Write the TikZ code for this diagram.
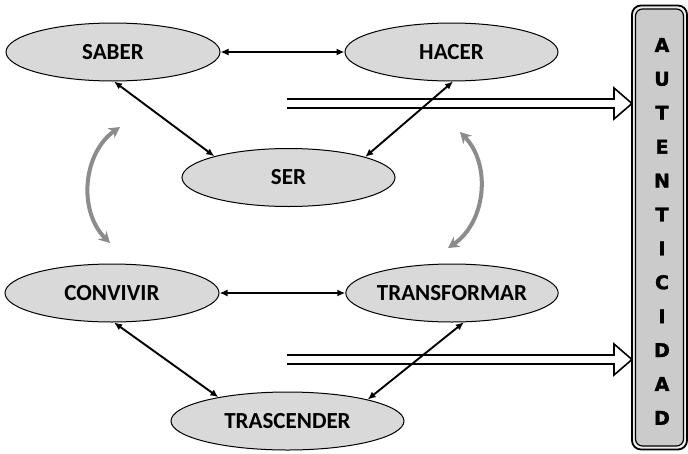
\documentclass[tikz,border=0pt]{standalone}
\usepackage{fontspec}
\setmainfont{Carlito}
\newfontfamily\boxfont[BoldFeatures={FakeBold=1.6}]{DejaVu Sans}
\usetikzlibrary{arrows.meta,shapes.geometric}
\definecolor{ovalgray}{HTML}{D9D9D9}
\definecolor{curvegray}{HTML}{8C8C8C}
\definecolor{boxgray}{HTML}{CBCBCB}
\definecolor{rimgray}{HTML}{EDEDED}
\tikzset{
  oval/.style={ellipse, draw, line width=1pt, fill=ovalgray, inner sep=0pt,
    minimum height=58pt, font=\fontsize{23}{25}\selectfont\bfseries},
  link/.style={line width=1.9pt, {Latex[length=8pt,width=7pt]}-{Latex[length=8pt,width=7pt]}},
  swing/.style={line width=4pt, curvegray, {Stealth[length=11pt,width=12pt]}-{Stealth[length=11pt,width=12pt]}},
  bigarrow/.style={line width=1.6pt, line join=miter},
  capital/.style={font=\boxfont\bfseries\fontsize{19}{19}\selectfont},
}
\newcommand{\fatarrow}[1]{\draw [bigarrow] (#1) ++(0,-4.5) -- ++(327,0) -- ++(0,-11)
  -- ++(18,15.5) -- ++(-18,15.5) -- ++(0,-11) -- ++(-327,0);}
\begin{document}
\begin{tikzpicture}[x=1pt,y=-1pt]
  \useasboundingbox (0,0) rectangle (688,453);

  \node [oval, minimum width=214pt] (saber) at (113,52) {SABER};
  \node [oval, minimum width=213pt] (hacer) at (451.5,52) {HACER};
  \node [oval, minimum width=213pt] (ser) at (288.5,177.5) {SER};
  \node [oval, minimum width=214pt] (convivir) at (112,293) {CONVIVIR};
  \node [oval, minimum width=212pt] (transformar) at (452,293) {TRANSFORMAR};
  \node [oval, minimum width=233pt] (trascender) at (287.5,421) {TRASCENDER};

  \draw [link] (saber) to (hacer);
  \draw [link] (saber.272) to (ser.164);
  \draw [link] (hacer.273) to (ser.15);
  \draw [link] (convivir) to (transformar);
  \draw [link] (convivir.274) to (trascender.161);
  \draw [link] (transformar.292) to (trascender.15);

  \coordinate (lefttop) at (120,127);
  \coordinate (leftbot) at (110,243);
  \coordinate (righttop) at (460,132);
  \coordinate (rightbot) at (448,248);
  \draw [swing] (lefttop) to [bend right=50] (leftbot);
  \draw [swing] (righttop) to [bend left=50] (rightbot);

  \coordinate (uptail) at (287,103.5);
  \coordinate (lowtail) at (287,359.5);
  \fatarrow{uptail}
  \fatarrow{lowtail}

  \node [draw, line width=1.8pt, rounded corners=9pt, fill=rimgray,
    minimum width=55pt, minimum height=444pt] (frame) at (659.5,227.5) {};
  \node [draw, line width=1.2pt, rounded corners=7pt, fill=boxgray,
    minimum width=48pt, minimum height=437pt] (aut) at (frame.center) {};
  \foreach \ch [count=\i from 0] in {A,U,T,E,N,T,I,C,I,D,A,D}
    \node [capital] (l\i) at (662,{45+33.9*\i}) {\ch};
\end{tikzpicture}
\end{document}
